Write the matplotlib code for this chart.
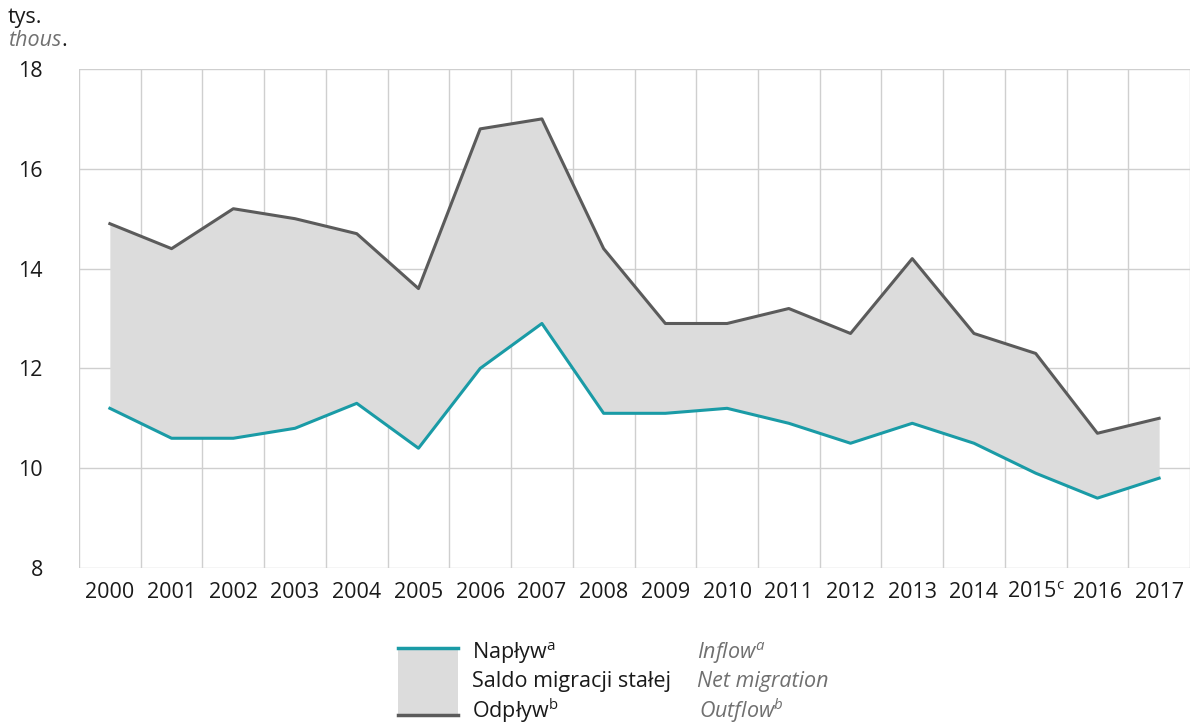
import matplotlib
matplotlib.use("Agg")
import matplotlib.pyplot as plt
import numpy as np

plt.rcParams['font.family'] = ['Open Sans', 'DejaVu Sans']
plt.rcParams['mathtext.fontset'] = 'custom'
plt.rcParams['mathtext.rm'] = 'Open Sans'
plt.rcParams['mathtext.it'] = 'Open Sans:italic'

years = ["2000", "2001", "2002", "2003", "2004", "2005", "2006", "2007", "2008",
         "2009", "2010", "2011", "2012", "2013", "2014", "2015$^{\\mathrm{c}}$", "2016", "2017"]
inflow = [11.2, 10.6, 10.6, 10.8, 11.3, 10.4, 12.0, 12.9, 11.1,
          11.1, 11.2, 10.9, 10.5, 10.9, 10.5, 9.9, 9.4, 9.8]
outflow = [14.9, 14.4, 15.2, 15.0, 14.7, 13.6, 16.8, 17.0, 14.4,
           12.9, 12.9, 13.2, 12.7, 14.2, 12.7, 12.3, 10.7, 11.0]
yticks = [8, 10, 12, 14, 16, 18]

TEAL = '#1a9ba6'
DARK = '#5b5b5b'
FILL = '#dcdcdc'
GRID = '#cfcfcf'

fig = plt.figure(figsize=(11.92, 7.23), dpi=100)
ax = fig.add_axes([79/1192, 1-568/723, (1190-79)/1192, (568-69)/723])

x = np.arange(len(years))
ax.fill_between(x, inflow, outflow, color=FILL, lw=0, zorder=1)
ax.plot(x, outflow, color=DARK, lw=2.2, zorder=3)
ax.plot(x, inflow, color=TEAL, lw=2.2, zorder=3)

ax.set_xlim(-0.5, len(years)-0.5)
ax.set_ylim(8, 18)
ax.set_yticks(yticks)
ax.set_xticks(x)
ax.set_xticklabels(years)
for b in np.arange(-0.5, len(years), 1.0):
    ax.axvline(b, color=GRID, lw=1, zorder=0)
for yv in yticks:
    ax.axhline(yv, color=GRID, lw=1, zorder=0)
for s in ax.spines.values():
    s.set_visible(False)
fs = 15.5
ax.tick_params(axis='both', length=0, labelsize=fs, colors='#1a1a1a')
ax.tick_params(axis='y', pad=26)
ax.tick_params(axis='x', pad=10)

fig.text(8/1192, 1-17/723, "tys.", fontsize=fs, color='#1a1a1a', va='center', ha='left')
t = fig.text(8/1192, 1-40/723, "thous", fontsize=fs, color='#707070', style='italic', va='center', ha='left')
fig.canvas.draw()
bb = t.get_window_extent()
fig.text(bb.x1/1192, 1-40/723, ".", fontsize=fs, color='#1a1a1a', va='center', ha='left')

# legend
lx0, lx1 = 398/1192, 458/1192
ly_top, ly_bot = 1-648/723, 1-715/723
fig.patches.append(plt.Rectangle((lx0, ly_bot), lx1-lx0, ly_top-ly_bot, transform=fig.transFigure,
                                 facecolor=FILL, edgecolor='none'))
fig.add_artist(plt.Line2D([lx0, lx1], [ly_top, ly_top], transform=fig.transFigure, color=TEAL, lw=2.5))
fig.add_artist(plt.Line2D([lx0, lx1], [ly_bot, ly_bot], transform=fig.transFigure, color=DARK, lw=2.5))

fig.text(472/1192, 1-653/723, "Napływ$^{\\mathrm{a}}$", fontsize=fs, color='#1a1a1a', va='center')
fig.text(472/1192, 1-682/723, "Saldo migracji stałej", fontsize=fs, color='#1a1a1a', va='center')
fig.text(472/1192, 1-711/723, "Odpływ$^{\\mathrm{b}}$", fontsize=fs, color='#1a1a1a', va='center')
fig.text(697/1192, 1-653/723, "Inflow$^{a}$", fontsize=fs, color='#707070', style='italic', va='center')
fig.text(697/1192, 1-682/723, "Net migration", fontsize=fs, color='#707070', style='italic', va='center')
fig.text(699/1192, 1-711/723, "Outflow$^{b}$", fontsize=fs, color='#707070', style='italic', va='center')

fig.savefig("out.png", dpi=100)
